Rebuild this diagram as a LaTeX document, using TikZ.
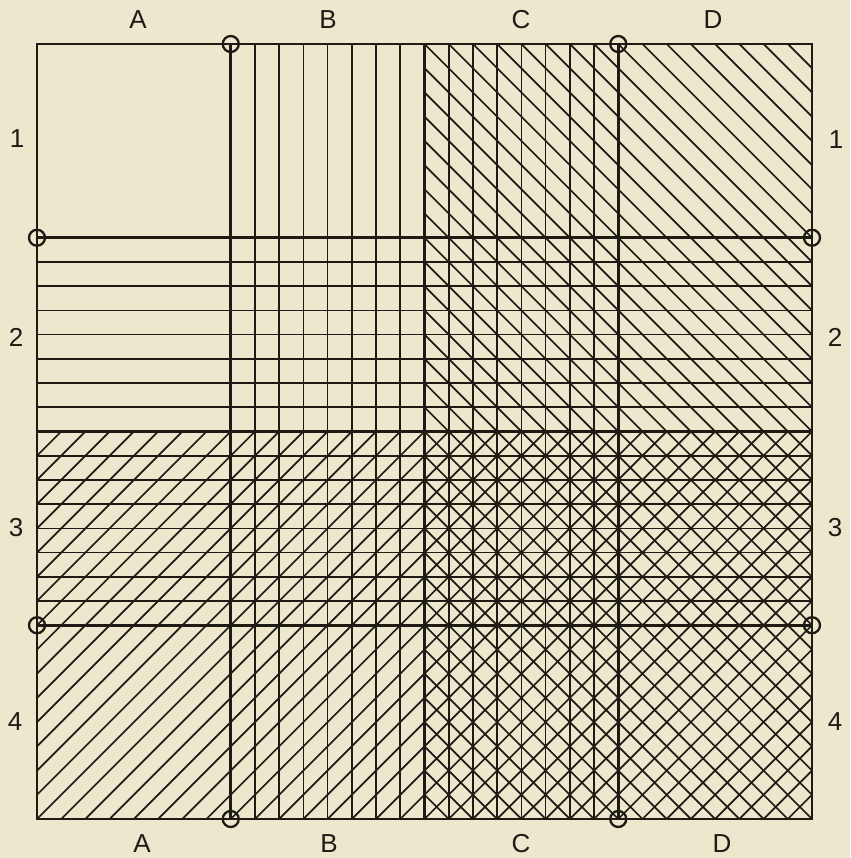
\documentclass[tikz,border=0pt]{standalone}
\usepackage{fontspec}
\setmainfont{Liberation Sans}
\definecolor{paper}{RGB}{236,231,205}
\definecolor{ink}{RGB}{30,26,20}
\begin{document}
\begin{tikzpicture}[x=24.21875pt,y=24.21875pt,
  thinline/.style={draw=ink,line width=1.7pt},
  thickline/.style={draw=ink,line width=2.6pt},
  markcircle/.style={draw=ink,line width=2.3pt},
  lbl/.style={text=ink,font=\fontsize{26}{30}\selectfont,inner sep=0pt}]
\fill[paper] (-37pt,-39pt) rectangle (813pt,819pt);
\useasboundingbox (-37pt,-39pt) rectangle (813pt,819pt);
% vertical lines (columns B, C)
\foreach \i in {9,...,15,17,18,...,23} \draw[thinline] (\i,0) -- (\i,32);
% horizontal lines (rows 2, 3)
\foreach \j in {9,...,15,17,18,...,23} \draw[thinline] (0,\j) -- (32,\j);
% backslash diagonals (columns C, D)
\begin{scope}
  \clip (16,0) rectangle (32,32);
  \foreach \k in {17,...,63} \draw[thinline] ({\k-32},32) -- (\k,0);
\end{scope}
% slash diagonals (rows 3, 4)
\begin{scope}
  \clip (0,0) rectangle (32,16);
  \foreach \k in {-15,...,31} \draw[thinline] (\k,0) -- ({\k+32},32);
\end{scope}
% section boundaries
\foreach \i in {8,16,24} {
  \draw[thickline] (\i,0) -- (\i,32);
  \draw[thickline] (0,\i) -- (32,\i);
}
\draw[thickline] (0,0) rectangle (32,32);
% circles
\foreach \p in {(8,32),(24,32),(8,0),(24,0),(0,24),(32,24),(0,8),(32,8)}
  \draw[markcircle] \p circle (8pt);
% labels
\node[lbl] (tA) at (101pt,799pt) {A};
\node[lbl] (tB) at (291pt,799pt) {B};
\node[lbl] (tC) at (484pt,799pt) {C};
\node[lbl] (tD) at (676pt,799pt) {D};
\node[lbl] (bA) at (105pt,-25pt) {A};
\node[lbl] (bB) at (292pt,-25pt) {B};
\node[lbl] (bC) at (484pt,-25pt) {C};
\node[lbl] (bD) at (685pt,-25pt) {D};
\node[lbl] (l1) at (-20pt,680pt) {1};
\node[lbl] (l2) at (-21pt,482pt) {2};
\node[lbl] (l3) at (-21pt,291pt) {3};
\node[lbl] (l4) at (-22pt,97pt) {4};
\node[lbl] (r1) at (799pt,679pt) {1};
\node[lbl] (r2) at (798pt,482pt) {2};
\node[lbl] (r3) at (798pt,291pt) {3};
\node[lbl] (r4) at (798pt,97pt) {4};
\end{tikzpicture}
\end{document}
